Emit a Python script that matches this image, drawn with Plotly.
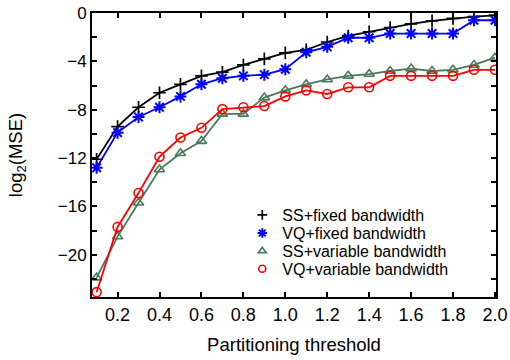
import plotly.graph_objects as go

thresholds = [0.1, 0.2, 0.3, 0.4, 0.5, 0.6, 0.7, 0.8, 0.9, 1.0,
              1.1, 1.2, 1.3, 1.4, 1.5, 1.6, 1.7, 1.8, 1.9, 2.0]
ss_fixed = [-12.1, -9.4, -7.8, -6.6, -5.9, -5.2, -4.9, -4.3, -3.8, -3.3,
            -3.05, -2.4, -1.9, -1.55, -1.2, -0.9, -0.65, -0.45, -0.3, -0.2]
vq_fixed = [-12.8, -9.9, -8.6, -7.8, -6.9, -5.9, -5.4, -5.2, -5.1, -4.65,
            -3.25, -2.8, -2.05, -2.05, -1.7, -1.7, -1.7, -1.7, -0.6, -0.6]
ss_variable = [-21.9, -18.5, -15.7, -12.95, -11.6, -10.6, -8.35, -8.35, -7.0, -6.4,
               -5.9, -5.5, -5.2, -5.05, -4.8, -4.6, -4.8, -4.7, -4.3, -3.7]
vq_variable = [-23.1, -17.7, -14.9, -11.9, -10.3, -9.5, -7.95, -7.8, -7.7, -6.9,
               -6.4, -6.7, -6.15, -6.15, -5.2, -5.2, -5.2, -5.2, -4.7, -4.7]
x_tick_values = [0.2, 0.4, 0.6, 0.8, 1.0, 1.2, 1.4, 1.6, 1.8, 2.0]

names = ["SS+fixed bandwidth", "VQ+fixed bandwidth", "SS+variable bandwidth", "VQ+variable bandwidth"]
series = [ss_fixed, vq_fixed, ss_variable, vq_variable]
colors = ["#000000", "#0000ff", "#4a7a5c", "#ff0000"]
symbols = ["cross-thin-open", "asterisk-open", "triangle-up-open", "circle-open"]
sizes = [9, 10, 9, 9]
marker_widths = [1.7, 2, 1.6, 1.6]
legend_ids = ["legend", "legend2", "legend3", "legend4"]
legend_rows_y = [0.289, 0.225, 0.162, 0.099]

fig = go.Figure()
for name, ys, c, s, sz, mw in zip(names, series, colors, symbols, sizes, marker_widths):
    fig.add_trace(go.Scatter(
        x=thresholds, y=ys, mode="lines+markers", name=name, showlegend=False,
        line=dict(color=c, width=1.8),
        marker=dict(symbol=s, size=sz, color=c, line=dict(color=c, width=mw)),
    ))
for name, c, s, sz, mw, lg in zip(names, colors, symbols, sizes, marker_widths, legend_ids):
    fig.add_trace(go.Scatter(
        x=[None], y=[None], mode="markers", name=name, legend=lg,
        marker=dict(symbol=s, size=sz - 2, color=c, line=dict(color=c, width=mw)),
    ))

axis_common = dict(
    showline=True, linecolor="black", linewidth=2, mirror="ticks",
    ticks="inside", ticklen=5, tickwidth=1.5, tickcolor="black",
    showgrid=False, zeroline=False, automargin=False,
)

legend_layout = {}
for lg, ly in zip(legend_ids, legend_rows_y):
    legend_layout[lg] = dict(x=0.372, y=ly, xanchor="left", yanchor="middle",
                             bgcolor="rgba(0,0,0,0)", font=dict(size=16),
                             itemsizing="trace")

fig.update_layout(
    width=510, height=360,
    margin=dict(l=92, r=14, t=13, b=63),
    paper_bgcolor="white", plot_bgcolor="white",
    font=dict(family="Liberation Sans, Arial, sans-serif", color="black"),
    xaxis=dict(range=[0.078, 2.005], tickvals=x_tick_values,
               tickformat=".1f",
               tickfont=dict(size=18, color="black"),
               title=dict(text="Partitioning threshold", font=dict(size=18.5), standoff=14),
               **axis_common),
    yaxis=dict(range=[-23.5, 0], dtick=4, tick0=0,
               minor=dict(dtick=2, ticks="inside", ticklen=5, tickcolor="black", tickwidth=1.5),
               tickfont=dict(size=17, color="black"),
               title=dict(text="log<sub>2</sub>(MSE)", font=dict(size=18.5), standoff=30),
               **axis_common),
    **legend_layout,
)

fig.write_html("out.html", config={"displayModeBar": False},
               post_script="document.body.style.margin='0px';")
